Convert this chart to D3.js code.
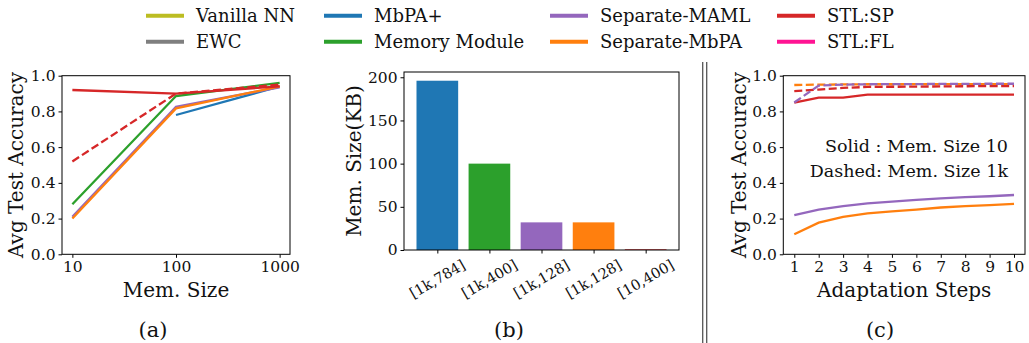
<!DOCTYPE html>
<html>
<head>
<meta charset="utf-8">
<script src="https://cdn.jsdelivr.net/npm/d3@7"></script>
<style>
  body { margin: 0; background: #fff; }
  svg { display: block; font-family: "DejaVu Serif", serif; }
</style>
</head>
<body>
<div id="chart"></div>
<script>
// legend entries
const legendNames = ['Vanilla NN', 'EWC', 'MbPA+', 'Memory Module', 'Separate-MAML', 'Separate-MbPA', 'STL:SP', 'STL:FL'];
const legendColors = ['#bcbd22', '#7f7f7f', '#1f77b4', '#2ca02c', '#9467bd', '#ff7f0e', '#d62728', '#ff1493'];

// panel (a): accuracy vs memory size
const memSizes = [10, 100, 1000];
const aMbPAplus = [null, 0.78, 0.94];
const aMemModule = [0.28, 0.886, 0.96];
const aSepMAML = [0.21, 0.826, 0.935];
const aSepMbPA = [0.20, 0.817, 0.94];
const aSTLSPsolid = [0.92, 0.90, 0.94];
const aSTLSPdashed = [0.52, 0.90, 0.95];

// panel (b): memory size in KB
const bLabels = ['[1k,784]', '[1k,400]', '[1k,128]', '[1k,128]', '[10,400]'];
const bValues = [196, 100, 32, 32, 0.8];
const bColors = ['#1f77b4', '#2ca02c', '#9467bd', '#ff7f0e', '#d62728'];

// panel (c): accuracy vs adaptation steps
const steps = [1, 2, 3, 4, 5, 6, 7, 8, 9, 10];
const cSepMAML10 = [0.22, 0.25, 0.27, 0.285, 0.295, 0.305, 0.313, 0.32, 0.325, 0.332];
const cSepMbPA10 = [0.112, 0.177, 0.21, 0.229, 0.24, 0.25, 0.262, 0.27, 0.275, 0.282];
const cSTLSP10 = [0.849, 0.877, 0.877, 0.894, 0.894, 0.894, 0.894, 0.894, 0.894, 0.894];
const cSepMbPA1k = [0.948, 0.95, 0.951, 0.952, 0.952, 0.953, 0.953, 0.953, 0.953, 0.953];
const cSTLSP1k = [0.914, 0.922, 0.932, 0.937, 0.938, 0.939, 0.94, 0.941, 0.942, 0.942];
const cSepMAML1k = [0.85, 0.945, 0.95, 0.952, 0.953, 0.953, 0.954, 0.954, 0.955, 0.955];

const accTicks = [0, 0.2, 0.4, 0.6, 0.8, 1.0];

const svg = d3.select('#chart').append('svg')
    .attr('width', 1029)
    .attr('height', 343);

// ---- legend ----
const legCols = [146, 324, 550, 777];
const legRows = [15.7, 41.7];
legendNames.forEach((name, i) => {
    const x = legCols[Math.floor(i / 2)];
    const y = legRows[i % 2];
    svg.append('line')
        .attr('x1', x).attr('x2', x + 38)
        .attr('y1', y).attr('y2', y)
        .attr('stroke', legendColors[i])
        .attr('stroke-width', 4);
    svg.append('text')
        .attr('x', x + 50).attr('y', y)
        .attr('dominant-baseline', 'central')
        .attr('font-size', 18)
        .attr('fill', '#111')
        .text(name);
});

function drawFrame(g, x0, x1, y0, y1) {
    g.append('rect')
        .attr('x', x0).attr('y', y0)
        .attr('width', x1 - x0).attr('height', y1 - y0)
        .attr('fill', 'none')
        .attr('stroke', '#000')
        .attr('stroke-width', 1);
}

function styleAxis(sel) {
    sel.select('.domain').remove();
    sel.selectAll('.tick line').attr('stroke', '#000');
    sel.selectAll('.tick text').attr('font-family', '"DejaVu Serif", serif').attr('fill', '#111');
}

function drawSeries(g, xs, ys, x, y, color, dashed) {
    const line = d3.line()
        .defined((d, i) => ys[i] !== null)
        .x(d => x(d))
        .y((d, i) => y(ys[i]));
    g.append('path')
        .datum(xs)
        .attr('d', line)
        .attr('fill', 'none')
        .attr('stroke', color)
        .attr('stroke-width', 2.3)
        .attr('stroke-dasharray', dashed ? '8,3.5' : null);
}

// ---- panel (a) ----
{
    const L = 62, R = 290, T = 75.7, B = 254.3;
    const g = svg.append('g');
    const x = d3.scaleLog().domain([10 / Math.pow(10, 0.1), 1000 * Math.pow(10, 0.1)]).range([L, R]);
    const y = d3.scaleLinear().domain([0, 1.0]).range([B, T]);

    drawSeries(g, memSizes, aMbPAplus, x, y, '#1f77b4');
    drawSeries(g, memSizes, aMemModule, x, y, '#2ca02c');
    drawSeries(g, memSizes, aSepMAML, x, y, '#9467bd');
    drawSeries(g, memSizes, aSepMbPA, x, y, '#ff7f0e');
    drawSeries(g, memSizes, aSTLSPsolid, x, y, '#d62728');
    drawSeries(g, memSizes, aSTLSPdashed, x, y, '#d62728', true);

    g.append('g').attr('transform', `translate(0,${B})`)
        .call(d3.axisBottom(x).tickValues(memSizes).tickFormat(d3.format('d')).tickSize(3.5).tickPadding(3))
        .call(styleAxis)
        .selectAll('text').attr('font-size', 15.5);
    g.append('g').attr('transform', `translate(${L},0)`)
        .call(d3.axisLeft(y).tickValues(accTicks).tickFormat(d3.format('.1f')).tickSize(3.5).tickPadding(3))
        .call(styleAxis)
        .selectAll('text').attr('font-size', 15.5);
    drawFrame(g, L, R, T, B);

    g.append('text').attr('x', (L + R) / 2).attr('y', 297)
        .attr('text-anchor', 'middle').attr('font-size', 20).attr('fill', '#111').text('Mem. Size');
    g.append('text').attr('transform', `translate(23,${(T + B) / 2}) rotate(-90)`)
        .attr('text-anchor', 'middle').attr('font-size', 20).attr('fill', '#111').text('Avg Test Accuracy');
    g.append('text').attr('x', 153).attr('y', 330)
        .attr('text-anchor', 'middle').attr('dominant-baseline', 'central')
        .attr('font-size', 21).attr('fill', '#111').text('(a)');
}

// ---- panel (b) ----
{
    const L = 404, R = 679, T = 72, B = 250;
    const g = svg.append('g');
    const x = d3.scaleLinear().domain([-0.64, 4.64]).range([L, R]);
    const y = d3.scaleLinear().domain([0, 206.1]).range([B, T]);
    const idx = d3.range(bLabels.length);

    g.selectAll('rect.bar').data(idx).enter().append('rect')
        .attr('class', 'bar')
        .attr('x', i => x(i - 0.4))
        .attr('width', i => x(i + 0.4) - x(i - 0.4))
        .attr('y', i => y(bValues[i]))
        .attr('height', i => y(0) - y(bValues[i]))
        .attr('fill', i => bColors[i]);

    g.append('g').attr('transform', `translate(0,${B})`)
        .call(d3.axisBottom(x).tickValues(idx).tickFormat('').tickSize(3.5))
        .call(styleAxis);
    idx.forEach(i => {
        g.append('text')
            .attr('transform', `translate(${x(i)},279) rotate(-30)`)
            .attr('text-anchor', 'middle').attr('dominant-baseline', 'central')
            .attr('font-size', 14.5).attr('fill', '#111')
            .text(bLabels[i]);
    });
    g.append('g').attr('transform', `translate(${L},0)`)
        .call(d3.axisLeft(y).tickValues([0, 50, 100, 150, 200]).tickSize(3.5).tickPadding(3))
        .call(styleAxis)
        .selectAll('text').attr('font-size', 15.5);
    drawFrame(g, L, R, T, B);

    g.append('text').attr('transform', `translate(361,${(T + B) / 2}) rotate(-90)`)
        .attr('text-anchor', 'middle').attr('font-size', 20).attr('fill', '#111').text('Mem. Size(KB)');
    g.append('text').attr('x', 509).attr('y', 330)
        .attr('text-anchor', 'middle').attr('dominant-baseline', 'central')
        .attr('font-size', 21).attr('fill', '#111').text('(b)');
}

// ---- divider ----
[702.7, 706.7].forEach(xv => {
    svg.append('line')
        .attr('x1', xv).attr('x2', xv)
        .attr('y1', 62).attr('y2', 343)
        .attr('stroke', '#555').attr('stroke-width', 1.3);
});

// ---- panel (c) ----
{
    const L = 783.3, R = 1025, T = 75.7, B = 254.3;
    const g = svg.append('g');
    const x = d3.scaleLinear().domain([0.55, 10.45]).range([L, R]);
    const y = d3.scaleLinear().domain([0, 1.0]).range([B, T]);

    drawSeries(g, steps, cSepMAML10, x, y, '#9467bd');
    drawSeries(g, steps, cSepMbPA10, x, y, '#ff7f0e');
    drawSeries(g, steps, cSTLSP10, x, y, '#d62728');
    drawSeries(g, steps, cSepMbPA1k, x, y, '#ff7f0e', true);
    drawSeries(g, steps, cSTLSP1k, x, y, '#d62728', true);
    drawSeries(g, steps, cSepMAML1k, x, y, '#9467bd', true);

    g.append('g').attr('transform', `translate(0,${B})`)
        .call(d3.axisBottom(x).tickValues(steps).tickSize(3.5).tickPadding(3))
        .call(styleAxis)
        .selectAll('text').attr('font-size', 15.5);
    g.append('g').attr('transform', `translate(${L},0)`)
        .call(d3.axisLeft(y).tickValues(accTicks).tickFormat(d3.format('.1f')).tickSize(3.5).tickPadding(3))
        .call(styleAxis)
        .selectAll('text').attr('font-size', 15.5);
    drawFrame(g, L, R, T, B);

    g.append('text').attr('x', 1008).attr('y', 151.7)
        .attr('text-anchor', 'end').attr('font-size', 17.5).attr('fill', '#111').text('Solid : Mem. Size 10');
    g.append('text').attr('x', 1008).attr('y', 176.7)
        .attr('text-anchor', 'end').attr('font-size', 17.5).attr('fill', '#111').text('Dashed: Mem. Size 1k');

    g.append('text').attr('x', (L + R) / 2).attr('y', 297)
        .attr('text-anchor', 'middle').attr('font-size', 20).attr('fill', '#111').text('Adaptation Steps');
    g.append('text').attr('transform', `translate(746,${(T + B) / 2}) rotate(-90)`)
        .attr('text-anchor', 'middle').attr('font-size', 20).attr('fill', '#111').text('Avg Test Accuracy');
    g.append('text').attr('x', 880).attr('y', 330)
        .attr('text-anchor', 'middle').attr('dominant-baseline', 'central')
        .attr('font-size', 21).attr('fill', '#111').text('(c)');
}
</script>
</body>
</html>
